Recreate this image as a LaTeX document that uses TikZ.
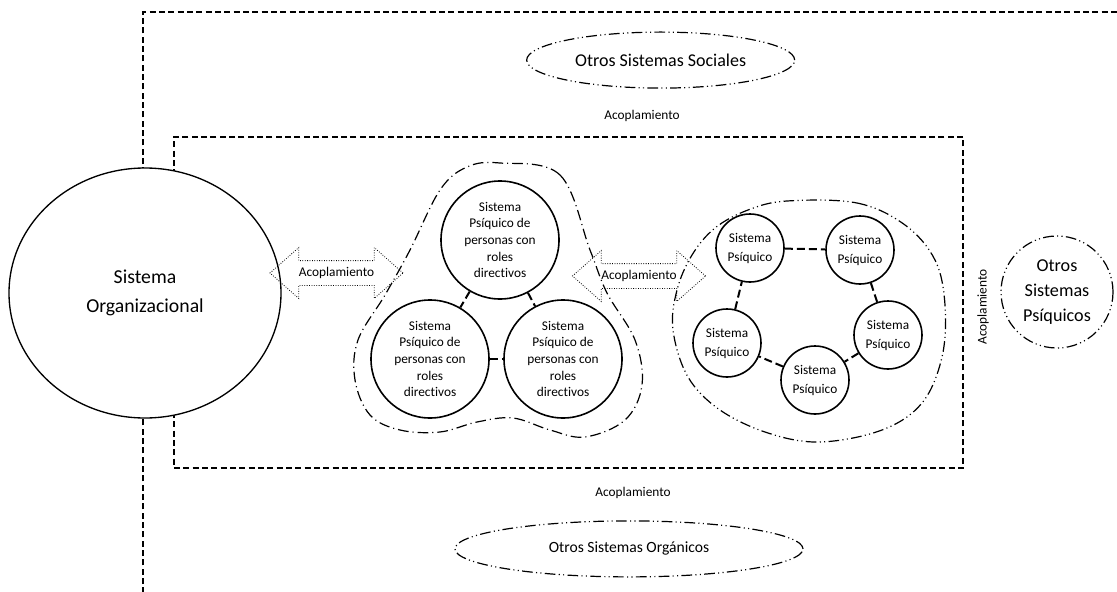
\documentclass[tikz,border=0pt]{standalone}
\usepackage{fontspec}
\setmainfont[Ligatures=NoCommon]{Carlito}
\usetikzlibrary{shapes.geometric, shapes.arrows, positioning}

\begin{document}
\begin{tikzpicture}[
        x=0.75pt, y=-0.75pt,
        frame/.style={draw, line width=0.8pt, dash pattern=on 4.5pt off 2.5pt},
        bigsys/.style={circle, draw, line width=1.2pt, minimum size=88.5pt, inner sep=0pt, align=center, font=\fontsize{10}{12.5}\selectfont},
        smallsys/.style={circle, draw, line width=1.2pt, minimum size=51pt, inner sep=0pt, align=center, font=\fontsize{10}{14.25}\selectfont},
        otros/.style={ellipse, draw, line width=0.9pt, dash pattern=on 8pt off 2.5pt on 0.8pt off 2.5pt on 0.8pt off 2.5pt, inner sep=0pt, align=center},
        grupo/.style={line width=0.9pt, dash pattern=on 8pt off 2.5pt on 0.8pt off 2.5pt on 0.8pt off 2.5pt},
        link/.style={line width=1.5pt, dash pattern=on 6pt off 3pt},
        acop/.style={double arrow, draw, line width=0.6pt, dash pattern=on 0.6pt off 1.2pt, double arrow head extend=9.75pt, double arrow tip angle=83, minimum height=99.75pt, minimum width=37.5pt, inner xsep=0pt, inner ysep=4pt, text height=7.5pt, text depth=2.5pt, font=\fontsize{10}{12}\selectfont},
        acoptext/.style={inner sep=0pt, font=\fontsize{10}{12}\selectfont}
    ]
        \clip (0,0) rectangle (1117,592);

        % Frames
        \draw [frame] (143,640) -- (143,12) -- (1160,12);
        \node (inner) [frame, minimum width=591.75pt, minimum height=248.25pt] at (568.5,302.5) {};

        % Group of directive systems
        \draw [grupo, dash pattern=on 8pt off 3pt on 0.8pt off 3pt] plot [smooth cycle, tension=0.6] coordinates {
            (500,163) (560,175) (590,250) (607,293) (635,340) (642,385) (625,420) (585,437)
            (550,430) (513,418) (477,422) (440,432) (400,430) (370,415) (355,380) (358,340)
            (385,295) (410,250) (440,190) (467,167)};
        \node (dirTop) [bigsys] at (500,240) {Sistema\\Psíquico de\\personas con\\roles\\directivos};
        \node (dirLeft) [bigsys] at (430,359) {Sistema\\Psíquico de\\personas con\\roles\\directivos};
        \node (dirRight) [bigsys] at (563,359) {Sistema\\Psíquico de\\personas con\\roles\\directivos};

        % Group of psychic systems
        \draw [grupo] plot [smooth cycle, tension=0.6] coordinates {
            (787,201) (857,203) (905,225) (935,260) (945,305) (942,357) (922,403) (882,430)
            (820,442) (768,433) (720,410) (688,377) (673,330) (677,290) (692,255) (715,228) (748,210)};
        \node (psyA) [smallsys] at (750,248) {Sistema\\Psíquico};
        \node (psyB) [smallsys] at (860,250) {Sistema\\Psíquico};
        \node (psyC) [smallsys] at (888,335) {Sistema\\Psíquico};
        \node (psyD) [smallsys] at (815,380) {Sistema\\Psíquico};
        \node (psyE) [smallsys] at (727,343) {Sistema\\Psíquico};

        % Outer systems
        \node (org) [ellipse, draw, fill=white, line width=1pt, minimum width=204pt, minimum height=187.5pt, align=center, font=\fontsize{14.8}{21.25}\selectfont] at (145,293) {Sistema\\Organizacional};
        \node (otherPsy) [otros, circle, minimum size=84pt, font=\fontsize{13.6}{18.75}\selectfont] at (1057,292) {Otros\\Sistemas\\Psíquicos};
        \node (acopTop) [acoptext] at (642,116) {Acoplamiento};
        \node (social) [otros, minimum width=201pt, minimum height=42pt, font=\fontsize{13.5}{16}\selectfont, above=16pt of acopTop, xshift=14pt] {Otros Sistemas Sociales};
        \node (acopBottom) [acoptext] at (633,493) {Acoplamiento};
        \node (organic) [otros, minimum width=261pt, minimum height=42pt, font=\fontsize{11.7}{14}\selectfont, below=16pt of acopBottom, xshift=-3pt] {Otros Sistemas Orgánicos};
        \node (acopSide) [acoptext, rotate=90] at (983,307) {Acoplamiento};

        % Couplings
        \node (acopLeft) [acop] at (336.5,273) {Acoplamiento};
        \node (acopRight) [acop] at (639,276) {Acoplamiento};

        % Links between systems
        \draw [link] (dirTop) -- (dirLeft);
        \draw [link] (dirTop) -- (dirRight);
        \draw [link] (dirLeft) -- (dirRight);
        \draw [link] (psyA) -- (psyB);
        \draw [link] (psyB) -- (psyC);
        \draw [link] (psyC) -- (psyD);
        \draw [link] (psyD) -- (psyE);
        \draw [link] (psyE) -- (psyA);
    \end{tikzpicture}
\end{document}
